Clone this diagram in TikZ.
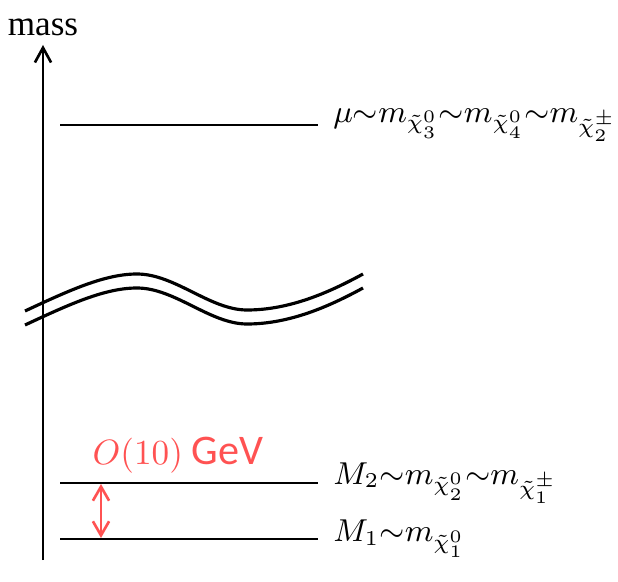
\documentclass[tikz,border=0pt]{standalone}
\usepackage{amsmath}
\usepackage{fontspec}
\setmainfont{Liberation Serif}
\newfontfamily\gevfont{Carlito}
\usetikzlibrary{arrows.meta, positioning}
\definecolor{gapred}{RGB}{255,82,82}
\tikzset{
	axis/.style={line width=0.75pt, -{Straight Barb[length=4.2pt, width=4.6pt]}},
	level/.style={line width=0.75pt},
	levellabel/.style={right, inner sep=4pt, font=\small},
	breakline/.style={line width=0.9pt},
	gap/.style={gapred, line width=0.75pt,
		{Straight Barb[length=4pt, width=4.6pt]}-{Straight Barb[length=4pt, width=4.6pt]}}
}

\begin{document}
\begin{tikzpicture}[x=0.01cm, y=-0.01cm]
	\useasboundingbox (0,0) rectangle (618,582);
	
	% Mass axis
	\coordinate (axis bottom) at (43,560);
	\coordinate (axis top) at (43,45);
	\draw[axis] (axis bottom) -- (axis top);
	\node[above=0.5pt, inner sep=2pt] (mass) at (axis top) {mass};
	
	% Heavy level (higgsinos)
	\coordinate (mu l) at (60,125);
	\coordinate (mu r) at (318,125);
	\draw[level] (mu l) -- (mu r) node[levellabel] (mu label)
		{$\mu{\sim}m_{\tilde{\chi}^0_3}{\sim}m_{\tilde{\chi}^0_4}{\sim}m_{\tilde{\chi}^\pm_2}$};
	
	% Axis break: two wavy lines
	\foreach \d in {0,14} {
		\draw[breakline, shift={(0,\d)}] (25,311) .. controls (70,290) and (105,274) .. (137,274)
			.. controls (175,274) and (210,310) .. (247,310)
			.. controls (290,310) and (330,292) .. (363,274);
	}
	
	% Light levels (winos, bino)
	\coordinate (m2 l) at (60,483);
	\coordinate (m2 r) at (318,483);
	\draw[level] (m2 l) -- (m2 r) node[levellabel] (m2 label)
		{$M_2{\sim}m_{\tilde{\chi}^0_2}{\sim}m_{\tilde{\chi}^\pm_1}$};
	\coordinate (m1 l) at (60,539);
	\coordinate (m1 r) at (318,539);
	\draw[level] (m1 l) -- (m1 r) node[levellabel] (m1 label)
		{$M_1{\sim}m_{\tilde{\chi}^0_1}$};
	
	% Mass gap
	\coordinate (gap top) at (101,484);
	\coordinate (gap bottom) at (101,538);
	\draw[gap] (gap top) -- (gap bottom);
	\node[gapred] (gap label) at (178,455) {$O(10)$ {\gevfont\large GeV}};
\end{tikzpicture}
\end{document}
